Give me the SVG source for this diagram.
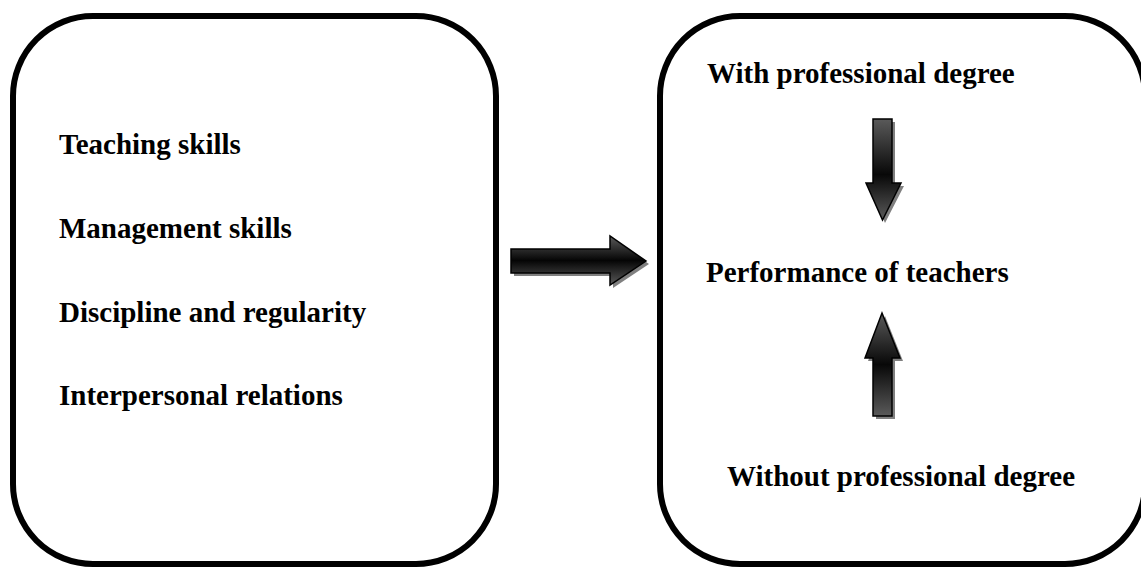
<svg xmlns="http://www.w3.org/2000/svg" width="1141" height="567" viewBox="0 0 1141 567">
<style>
.box{fill:#fff;stroke:#000;stroke-width:6}
.t{font-family:"Liberation Serif","Times New Roman",serif;font-weight:bold;font-size:29px;fill:#000}
.shadow{fill:#808080;stroke:none}
.arr{stroke:#000;stroke-width:1.5;stroke-linejoin:miter}
</style>
<defs>
<linearGradient id="gv" x1="0" y1="0" x2="0" y2="1">
<stop offset="0" stop-color="#5a5a5a"/>
<stop offset="0.5" stop-color="#050505"/>
<stop offset="1" stop-color="#5a5a5a"/>
</linearGradient>
<linearGradient id="gdown" x1="0" y1="0" x2="0" y2="1">
<stop offset="0" stop-color="#5a5a5a"/>
<stop offset="0.55" stop-color="#080808"/>
<stop offset="1" stop-color="#5a5a5a"/>
</linearGradient>
<linearGradient id="gup" x1="0" y1="0" x2="0" y2="1">
<stop offset="0" stop-color="#5a5a5a"/>
<stop offset="0.5" stop-color="#080808"/>
<stop offset="1" stop-color="#5a5a5a"/>
</linearGradient>
</defs>
<g id="left-box">
<rect class="box" x="13" y="16" width="483" height="548" rx="80" ry="80"/>
<text class="t" x="59" y="154">Teaching skills</text>
<text class="t" x="59" y="238">Management skills</text>
<text class="t" x="59" y="322">Discipline and regularity</text>
<text class="t" x="59" y="405">Interpersonal relations</text>
</g>
<g id="right-box">
<rect class="box" x="660" y="16" width="485" height="548" rx="80" ry="80"/>
<text class="t" x="707" y="83">With professional degree</text>
<text class="t" x="706" y="282">Performance of teachers</text>
<text class="t" x="727" y="486">Without professional degree</text>
</g>
<g id="connectors">
<g id="arrow-right">
<polygon class="shadow" points="514,252 613,252 613,239 649,264 613,288 613,276 514,276"/>
<polygon class="arr" fill="url(#gv)" points="511,249 610,249 610,236 646,261 610,285 610,273 511,273"/>
</g>
<g id="arrow-down">
<polygon class="shadow" points="876,122 895,122 895,186 904,186 885,223 869,186 876,186"/>
<polygon class="arr" fill="url(#gdown)" points="873,119 892,119 892,183 901,183 882.5,220 866,183 873,183"/>
</g>
<g id="arrow-up">
<polygon class="shadow" points="885,316 903,361 895,361 895,419 876,419 876,361 868,361"/>
<polygon class="arr" fill="url(#gup)" points="882,313 900,358 892,358 892,416 873,416 873,358 865,358"/>
</g>
</g>
</svg>
